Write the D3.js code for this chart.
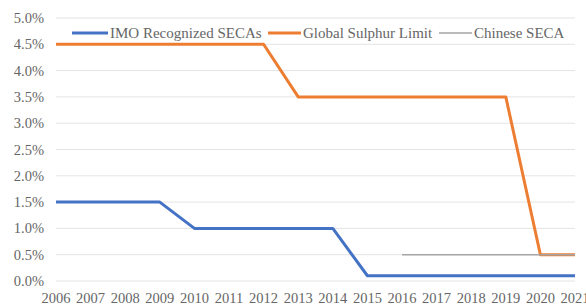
<!DOCTYPE html>
<html>
<head>
<meta charset="utf-8">
<script src="https://cdn.jsdelivr.net/npm/d3@7"></script>
<style>
  body { margin: 0; background: #fff; }
  svg { display: block; }
  svg text { font-family: 'Liberation Serif', serif; }
</style>
</head>
<body>
<svg width="586" height="307"></svg>
<script>
const years = d3.range(2006, 2022).map(String);
const imoSecas = [1.5, 1.5, 1.5, 1.5, 1.0, 1.0, 1.0, 1.0, 1.0, 0.1, 0.1, 0.1, 0.1, 0.1, 0.1, 0.1];
const globalLimit = [4.5, 4.5, 4.5, 4.5, 4.5, 4.5, 4.5, 3.5, 3.5, 3.5, 3.5, 3.5, 3.5, 3.5, 0.5, 0.5];
const chineseSeca = [null, null, null, null, null, null, null, null, null, null, 0.5, 0.5, 0.5, 0.5, 0.5, 0.5];
const yTicks = [0, 0.5, 1.0, 1.5, 2.0, 2.5, 3.0, 3.5, 4.0, 4.5, 5.0];

const series = [
  { name: "IMO Recognized SECAs", values: imoSecas, color: "#4472C4", width: 3 },
  { name: "Global Sulphur Limit", values: globalLimit, color: "#ED7D31", width: 3 },
  { name: "Chinese SECA", values: chineseSeca, color: "#A5A5A5", width: 1.5 }
];

const svg = d3.select("svg");
const margin = { left: 56, right: 11, top: 18, bottom: 26 };
const width = 586, height = 307;

const x = d3.scalePoint()
    .domain(years)
    .range([margin.left, width - margin.right]);

const y = d3.scaleLinear()
    .domain([0, 5])
    .range([height - margin.bottom, margin.top]);

// gridlines
svg.append("g")
    .selectAll("line")
    .data(yTicks)
    .enter().append("line")
    .attr("x1", margin.left)
    .attr("x2", width - margin.right)
    .attr("y1", d => y(d))
    .attr("y2", d => y(d))
    .attr("stroke", "#e4e4e4")
    .attr("stroke-width", 1);

// y labels
svg.append("g")
    .selectAll("text")
    .data(yTicks)
    .enter().append("text")
    .attr("x", 44)
    .attr("y", d => y(d))
    .attr("dy", "0.35em")
    .attr("text-anchor", "end")
    .attr("font-size", 14.5)
    .attr("fill", "#666")
    .text(d => d.toFixed(1) + "%");

// x labels
svg.append("g")
    .selectAll("text")
    .data(years)
    .enter().append("text")
    .attr("x", d => x(d))
    .attr("y", 303)
    .attr("text-anchor", "middle")
    .attr("font-size", 14.5)
    .attr("fill", "#666")
    .text(d => d);

// lines
const line = d3.line()
    .defined(d => d.v != null)
    .x(d => x(d.year))
    .y(d => y(d.v));

svg.append("g")
    .selectAll("path")
    .data(series)
    .enter().append("path")
    .attr("d", s => line(s.values.map((v, i) => ({ year: years[i], v: v }))))
    .attr("fill", "none")
    .attr("stroke", s => s.color)
    .attr("stroke-width", s => s.width)
    .attr("stroke-linejoin", "round");

// legend
const legend = svg.append("g");
legend.append("rect")
    .attr("x", 60)
    .attr("y", 23)
    .attr("width", 510)
    .attr("height", 19)
    .attr("fill", "#fff");

const legendItems = [
  { x: 72, lineW: 36 },
  { x: 268, lineW: 33 },
  { x: 439, lineW: 33 }
];

legendItems.forEach((it, i) => {
  const s = series[i];
  legend.append("line")
      .attr("x1", it.x)
      .attr("x2", it.x + it.lineW)
      .attr("y1", 33)
      .attr("y2", 33)
      .attr("stroke", s.color)
      .attr("stroke-width", s.width);
  legend.append("text")
      .attr("x", it.x + it.lineW + 2)
      .attr("y", 33)
      .attr("dy", "0.35em")
      .attr("font-size", 15)
      .attr("fill", "#666")
      .text(s.name);
});
</script>
</body>
</html>
